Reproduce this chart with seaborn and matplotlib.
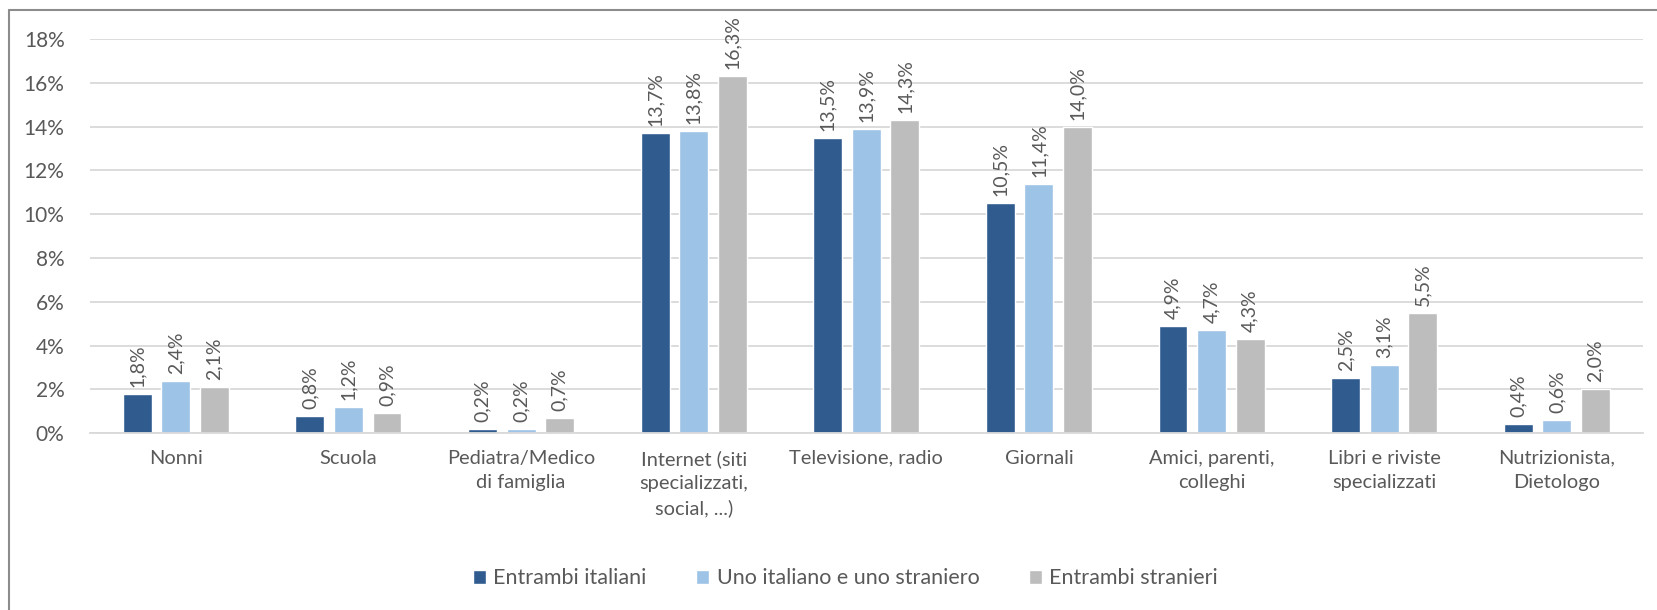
import pandas as pd
import numpy as np
import matplotlib.pyplot as plt
import seaborn as sns
from matplotlib.lines import Line2D

# data
categories = ["Nonni", "Scuola", "Pediatra/Medico\ndi famiglia",
              "Internet (siti\nspecializzati,\nsocial, ...)", "Televisione, radio",
              "Giornali", "Amici, parenti,\ncolleghi", "Libri e riviste\nspecializzati",
              "Nutrizionista,\nDietologo"]
series = ["Entrambi italiani", "Uno italiano e uno straniero", "Entrambi stranieri"]
entrambi_italiani = [1.8, 0.8, 0.2, 13.7, 13.5, 10.5, 4.9, 2.5, 0.4]
italiano_straniero = [2.4, 1.2, 0.2, 13.8, 13.9, 11.4, 4.7, 3.1, 0.6]
entrambi_stranieri = [2.1, 0.9, 0.7, 16.3, 14.3, 14.0, 4.3, 5.5, 2.0]
y_ticks = [0, 2, 4, 6, 8, 10, 12, 14, 16, 18]

colors = ["#2F5B8F", "#9DC3E6", "#BDBDBD"]
text_col = "#595959"

df = pd.DataFrame({
    "cat": categories * 3,
    "serie": np.repeat(series, len(categories)),
    "val": entrambi_italiani + italiano_straniero + entrambi_stranieri,
})

sns.set_style("white")
plt.rcParams["font.family"] = ["Lato", "DejaVu Sans"]

fig = plt.figure(figsize=(16.58, 6.10), dpi=100)
ax = fig.add_axes([0.054, 0.290, 0.937, 0.646])

sns.barplot(data=df, x="cat", y="val", hue="serie", palette=colors,
            width=0.67, gap=0.25, ax=ax, legend=True, saturation=1)

for cont, s in zip(ax.containers, series):
    labs = [f"{v:.1f}%".replace(".", ",") for v in cont.datavalues]
    ax.bar_label(cont, labels=labs, rotation=90, padding=5,
                 fontsize=14, color=text_col)

ax.set_ylim(0, 18)
ax.set_xlim(-0.5, len(categories) - 0.5)
ax.set_yticks(y_ticks)
ax.set_yticklabels([f"{t}%" for t in y_ticks], fontsize=15, color=text_col)
ax.set_xticks(range(len(categories)))
ax.set_xticklabels(categories, fontsize=14.4, color=text_col, linespacing=1.5)
ax.tick_params(axis="x", length=0, pad=12)
ax.tick_params(axis="y", length=0, pad=18)
ax.set_xlabel("")
ax.set_ylabel("")
ax.yaxis.grid(True, color="#D9D9D9", lw=1.3)
ax.set_axisbelow(True)
for sp in ["top", "right", "left"]:
    ax.spines[sp].set_visible(False)
ax.spines["bottom"].set_color("#D9D9D9")
ax.spines["bottom"].set_linewidth(1.3)

handles, labels = ax.get_legend_handles_labels()
ax.legend_.remove()
fig.legend(handles, labels, loc="center", bbox_to_anchor=(0.51, 0.052), ncol=3,
           frameon=False, fontsize=15.5, labelcolor=text_col, handlelength=0.6,
           handleheight=0.6, handletextpad=0.35, columnspacing=2.3)

# outer frame (left and top edges visible in reference)
fig.add_artist(Line2D([9 / 1658, 9 / 1658], [0, 1 - 10 / 610],
                      transform=fig.transFigure, color="#8C8C8C", lw=1.5))
fig.add_artist(Line2D([9 / 1658, 1], [1 - 10 / 610, 1 - 10 / 610],
                      transform=fig.transFigure, color="#8C8C8C", lw=1.5))

fig.savefig("out.png", dpi=100)
